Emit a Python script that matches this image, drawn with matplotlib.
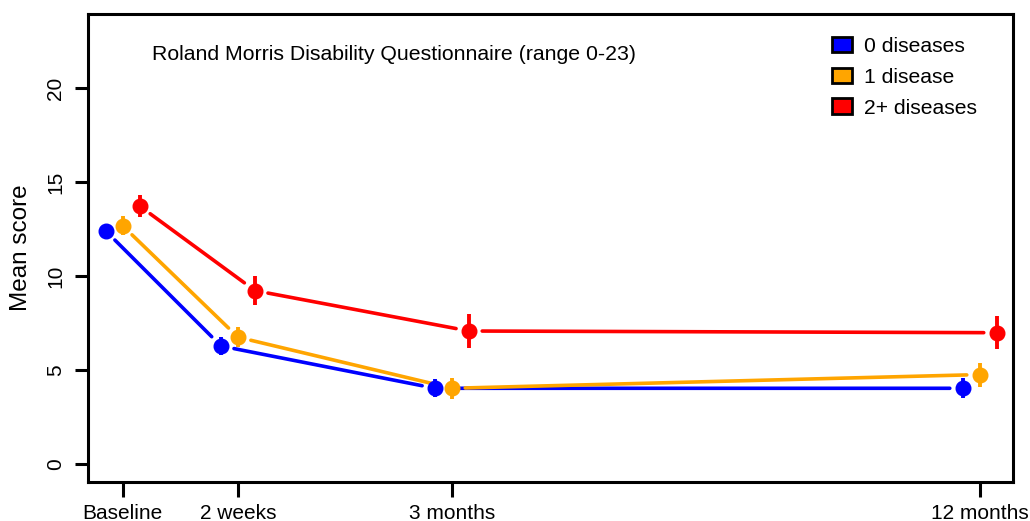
import matplotlib
matplotlib.use("Agg")
import matplotlib.pyplot as plt
from matplotlib.patches import Patch

plt.rcParams['font.family'] = ['Liberation Sans', 'DejaVu Sans']

time_labels = ["Baseline", "2 weeks", "3 months", "12 months"]
time_pos = [0.0, 1.0, 2.853, 7.424]
series_names = ["0 diseases", "1 disease", "2+ diseases"]
colors = ["#0000FF", "#FFA500", "#FF0000"]
offsets = [-0.147, 0.0, 0.147]

mean_0 = [12.42, 6.28, 4.03, 4.03]
mean_1 = [12.69, 6.75, 4.03, 4.76]
mean_2 = [13.74, 9.23, 7.08, 6.99]
err_0 = [0.37, 0.50, 0.48, 0.53]
err_1 = [0.49, 0.53, 0.56, 0.64]
err_2 = [0.59, 0.77, 0.91, 0.89]
means = [mean_0, mean_1, mean_2]
errs = [err_0, err_1, err_2]

fig = plt.figure(figsize=(10.30, 5.21), dpi=100)
ax = fig.add_axes([88/1030, 1-482/521, (1013-88)/1030, (482-14)/521])

for m, e, c, off in zip(means, errs, colors, offsets):
    xs = [t + off for t in time_pos]
    for i in range(len(xs) - 1):
        ax.annotate("", xy=(xs[i+1], m[i+1]), xytext=(xs[i], m[i]),
                    arrowprops=dict(arrowstyle='-', color=c, lw=2.6,
                                    shrinkA=9.5, shrinkB=9.5), zorder=2)
for m, e, c, off in zip(means, errs, colors, offsets):
    xs = [t + off for t in time_pos]
    ax.errorbar(xs, m, yerr=e, fmt='o', color=c, ms=10.5, elinewidth=2.8,
                capsize=0, zorder=3)

ax.set_xlim(-0.299, 7.71)
ax.set_ylim(-0.96, 23.96)
ax.set_yticks([0, 5, 10, 15, 20])
ax.set_yticklabels(["0", "5", "10", "15", "20"], rotation=90, va='center', fontsize=15)
ax.set_xticks(time_pos)
ax.set_xticklabels(time_labels, fontsize=15)
ax.tick_params(axis='y', length=9.5, width=2.2, pad=7)
ax.tick_params(axis='x', length=10.5, width=2.2, pad=5)
for s in ax.spines.values():
    s.set_linewidth(2.2)
ax.set_ylabel("Mean score", fontsize=17.5, labelpad=10)

ax.text(152/1030, 1-54/521, "Roland Morris Disability Questionnaire (range 0-23)",
        transform=fig.transFigure, fontsize=15.3, va='center', ha='left')

handles = [Patch(facecolor=c, edgecolor='black', lw=2.0) for c in colors]
leg = fig.legend(handles, series_names, loc='upper left', frameon=False,
                 fontsize=15.2, handlelength=0.95, handleheight=0.75,
                 handletextpad=0.55, labelspacing=0.55, borderaxespad=0,
                 borderpad=0, bbox_to_anchor=(832/1030, 1-37/521))

fig.savefig("out.png", dpi=100)
